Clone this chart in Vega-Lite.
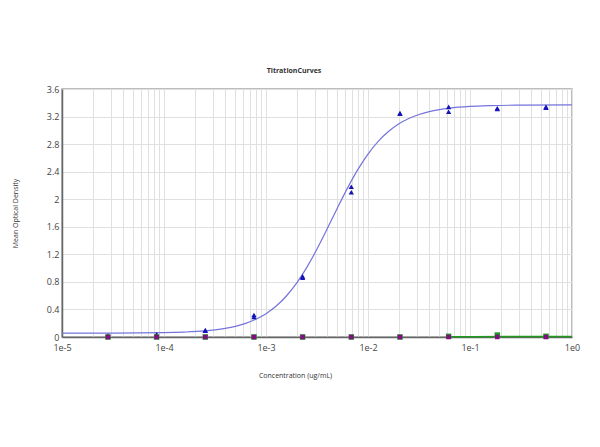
{
  "$schema": "https://vega.github.io/schema/vega-lite/v6.json",
  "description": "TitrationCurves",
  "width": 510,
  "height": 248,
  "autosize": "none",
  "padding": {"left": 62, "top": 89, "right": 28, "bottom": 110},
  "background": "white",
  "config": {
    "font": "Open Sans",
    "view": {"stroke": "#a8a8a8", "strokeWidth": 1.5},
    "axis": {
      "labelFont": "Open Sans",
      "titleFont": "Open Sans",
      "labelFontSize": 9,
      "labelColor": "#444444",
      "titleFontSize": 7,
      "titleFontWeight": "normal",
      "titleColor": "#333333",
      "gridColor": "#e0e0e0",
      "gridWidth": 1,
      "domainColor": "#666666",
      "domainWidth": 1.5,
      "ticks": false
    }
  },
  "title": {
    "text": "TitrationCurves",
    "fontSize": 7,
    "fontWeight": "bold",
    "color": "#333333",
    "font": "Open Sans",
    "offset": 11,
    "dx": -23
  },
  "datasets": {
    "curve": [
      {"conc": 0.00001, "od": 0.055},
      {"conc": 0.00003162, "od": 0.056},
      {"conc": 0.0001, "od": 0.063},
      {"conc": 0.0001585, "od": 0.072},
      {"conc": 0.0002512, "od": 0.089},
      {"conc": 0.0003162, "od": 0.104},
      {"conc": 0.0003981, "od": 0.125},
      {"conc": 0.0005012, "od": 0.155},
      {"conc": 0.000631, "od": 0.198},
      {"conc": 0.0007943, "od": 0.257},
      {"conc": 0.001, "od": 0.338},
      {"conc": 0.001259, "od": 0.449},
      {"conc": 0.001585, "od": 0.595},
      {"conc": 0.001995, "od": 0.781},
      {"conc": 0.002512, "od": 1.01},
      {"conc": 0.003162, "od": 1.277},
      {"conc": 0.003981, "od": 1.57},
      {"conc": 0.005012, "od": 1.873},
      {"conc": 0.00631, "od": 2.165},
      {"conc": 0.007943, "od": 2.43},
      {"conc": 0.01, "od": 2.656},
      {"conc": 0.01259, "od": 2.84},
      {"conc": 0.01585, "od": 2.983},
      {"conc": 0.01995, "od": 3.092},
      {"conc": 0.02512, "od": 3.172},
      {"conc": 0.03162, "od": 3.23},
      {"conc": 0.03981, "od": 3.272},
      {"conc": 0.05012, "od": 3.301},
      {"conc": 0.0631, "od": 3.322},
      {"conc": 0.1, "od": 3.347},
      {"conc": 0.1585, "od": 3.359},
      {"conc": 0.3162, "od": 3.366},
      {"conc": 1, "od": 3.37}
    ],
    "greenline": [
      {"conc": 0.058, "od": 0.004},
      {"conc": 0.1, "od": 0.005},
      {"conc": 0.3, "od": 0.006},
      {"conc": 1, "od": 0.006}
    ],
    "points": [
      {"conc": 0.00002822, "od": 0.02, "series": "blue"},
      {"conc": 0.00008467, "od": 0.04, "series": "blue"},
      {"conc": 0.00008467, "od": 0.03, "series": "blue"},
      {"conc": 0.000254, "od": 0.10, "series": "blue"},
      {"conc": 0.000254, "od": 0.09, "series": "blue"},
      {"conc": 0.0007621, "od": 0.32, "series": "blue"},
      {"conc": 0.0007621, "od": 0.29, "series": "blue"},
      {"conc": 0.002286, "od": 0.88, "series": "blue"},
      {"conc": 0.002286, "od": 0.86, "series": "blue"},
      {"conc": 0.006859, "od": 2.18, "series": "blue"},
      {"conc": 0.006859, "od": 2.10, "series": "blue"},
      {"conc": 0.02058, "od": 3.25, "series": "blue"},
      {"conc": 0.02058, "od": 3.24, "series": "blue"},
      {"conc": 0.06173, "od": 3.34, "series": "blue"},
      {"conc": 0.06173, "od": 3.27, "series": "blue"},
      {"conc": 0.1852, "od": 3.32, "series": "blue"},
      {"conc": 0.1852, "od": 3.31, "series": "blue"},
      {"conc": 0.5556, "od": 3.34, "series": "blue"},
      {"conc": 0.5556, "od": 3.33, "series": "blue"},
      {"conc": 0.00002822, "od": 0.0, "series": "green"},
      {"conc": 0.00008467, "od": 0.0, "series": "green"},
      {"conc": 0.000254, "od": 0.0, "series": "green"},
      {"conc": 0.0007621, "od": 0.0, "series": "green"},
      {"conc": 0.002286, "od": 0.0, "series": "green"},
      {"conc": 0.006859, "od": 0.0, "series": "green"},
      {"conc": 0.02058, "od": 0.0, "series": "green"},
      {"conc": 0.06173, "od": 0.01, "series": "green"},
      {"conc": 0.1852, "od": 0.028, "series": "green"},
      {"conc": 0.5556, "od": 0.01, "series": "green"},
      {"conc": 0.00002822, "od": 0.0, "series": "purple"},
      {"conc": 0.00008467, "od": 0.0, "series": "purple"},
      {"conc": 0.000254, "od": 0.0, "series": "purple"},
      {"conc": 0.0007621, "od": 0.0, "series": "purple"},
      {"conc": 0.002286, "od": 0.0, "series": "purple"},
      {"conc": 0.006859, "od": 0.0, "series": "purple"},
      {"conc": 0.02058, "od": 0.0, "series": "purple"},
      {"conc": 0.06173, "od": 0.0, "series": "purple"},
      {"conc": 0.1852, "od": 0.0, "series": "purple"},
      {"conc": 0.5556, "od": 0.0, "series": "purple"}
    ]
  },
  "encoding": {
    "x": {
      "field": "conc",
      "type": "quantitative",
      "scale": {"type": "log", "domain": [0.00001, 1], "nice": false},
      "title": "Concentration (ug/mL)",
      "axis": {
        "values": [0.00001, 0.00002, 0.00003, 0.00004, 0.00005, 0.00006, 0.00007, 0.00008, 0.00009,
                   0.0001, 0.0002, 0.0003, 0.0004, 0.0005, 0.0006, 0.0007, 0.0008, 0.0009,
                   0.001, 0.002, 0.003, 0.004, 0.005, 0.006, 0.007, 0.008, 0.009,
                   0.01, 0.02, 0.03, 0.04, 0.05, 0.06, 0.07, 0.08, 0.09,
                   0.1, 0.2, 0.3, 0.4, 0.5, 0.6, 0.7, 0.8, 0.9, 1],
        "labelExpr": "abs(log(datum.value)/LN10 - round(log(datum.value)/LN10)) < 0.001 ? '1e' + round(log(datum.value)/LN10) : ''",
        "labelPadding": 6,
        "labelOverlap": false,
        "labelFlush": false,
        "titleX": 233,
        "titleY": 34
      }
    },
    "y": {
      "field": "od",
      "type": "quantitative",
      "scale": {"domain": [0, 3.6], "nice": false},
      "title": "Mean Optical Density",
      "axis": {
        "values": [0, 0.4, 0.8, 1.2, 1.6, 2, 2.4, 2.8, 3.2, 3.6],
        "format": ".2~f",
        "labelPadding": 3,
        "titleX": -44,
        "titleY": 124
      }
    }
  },
  "layer": [
    {
      "data": {"name": "curve"},
      "mark": {"type": "line", "color": "#7474dc", "strokeWidth": 1.2, "interpolate": "monotone"}
    },
    {
      "data": {"name": "greenline"},
      "mark": {"type": "line", "color": "#1f9a1f", "strokeWidth": 1.5}
    },
    {
      "data": {"name": "points"},
      "transform": [{"filter": "datum.series === 'blue'"}],
      "mark": {"type": "point", "shape": "triangle-up", "filled": true, "color": "#1414b8", "size": 28, "opacity": 1}
    },
    {
      "data": {"name": "points"},
      "transform": [{"filter": "datum.series === 'green'"}],
      "mark": {"type": "square", "color": "#1f9a1f", "size": 30, "opacity": 1}
    },
    {
      "data": {"name": "points"},
      "transform": [{"filter": "datum.series === 'purple'"}],
      "mark": {"type": "square", "color": "#850a85", "size": 20, "opacity": 1}
    }
  ]
}
